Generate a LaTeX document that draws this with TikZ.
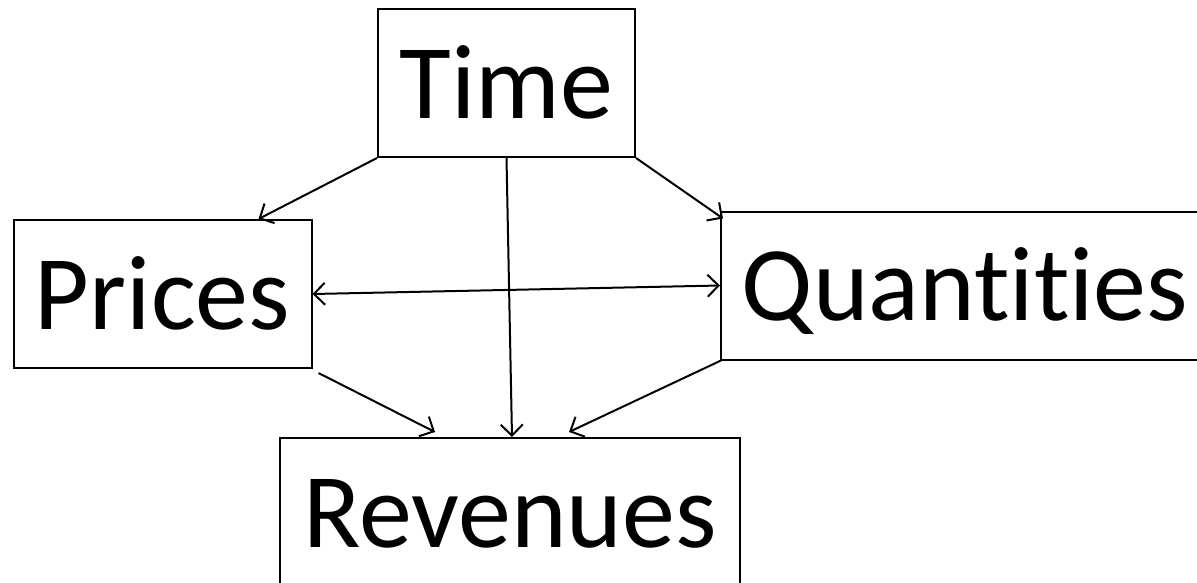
\documentclass[tikz,border=0pt]{standalone}
\usepackage{fontspec}
\setmainfont{Carlito}[Ligatures={NoCommon}]
\usetikzlibrary{arrows.meta,calc}
\tikzset{
  box/.style={draw, line width=2pt, rectangle, inner sep=0pt,
    minimum height=148pt, text height=109pt, text depth=39pt,
    font=\fontsize{106pt}{112pt}\selectfont, anchor=north west},
  barb/.tip={Straight Barb[length=11pt,width=22pt,line width=2pt]},
  link/.style={line width=2pt, -barb},
}
\begin{document}
\begin{tikzpicture}[x=1pt,y=-1pt]
\useasboundingbox (0,0) rectangle (1197,582);
\node[box, minimum width=257pt] (time) at (377,8) {Time};
\node[box, minimum width=298pt] (prices) at (12.5,219) {Prices};
\node[box, minimum width=488pt] (quant) at (720,210.5) {Quantities};
\node[box, minimum width=460pt] (rev) at (279,437) {Revenues};

\draw[link] (time.south west) -- ($(prices.north east)+(-54,0)$);
\draw[link] (time.south east) -- ($(quant.north west)+(3,8)$);
\draw[link] (time.south) -- ($(rev.north)+(2,0)$);
\draw[link, barb-barb] (prices.east) -- (quant.west);
\draw[link] ($(prices.south east)+(6,4)$) -- ($(rev.north west)+(156,-5)$);
\draw[link] ($(quant.south west)+(1,0)$) -- ($(rev.north west)+(290,-5)$);
\end{tikzpicture}
\end{document}
